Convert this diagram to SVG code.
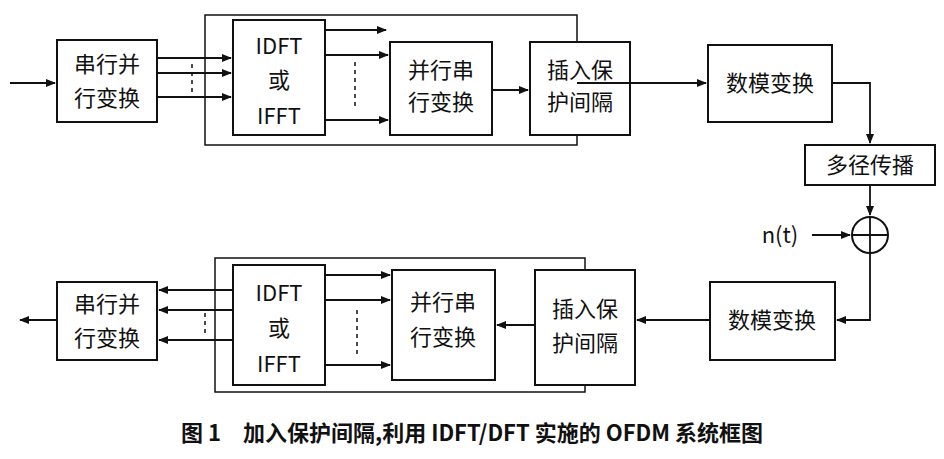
<svg xmlns="http://www.w3.org/2000/svg" width="944" height="459" viewBox="0 0 944 459">
<style>
.b{fill:#fff;stroke:#111;stroke-width:2}
.o{fill:none;stroke:#111;stroke-width:1.5}
.l{fill:none;stroke:#111;stroke-width:1.8}
.d{stroke:#111;stroke-width:1.5;stroke-dasharray:4,4}
text{font-family:"Noto Sans CJK SC","Liberation Serif",serif;font-size:22px;fill:#111;text-anchor:middle}
</style>
<defs><marker id="a" markerWidth="10" markerHeight="8" refX="9" refY="4" orient="auto" markerUnits="userSpaceOnUse"><path d="M0,0L10,4L0,8z" fill="#111"/></marker></defs>
<rect width="944" height="459" fill="#fff"/>
<g id="outerTop"><rect class="o" x="205" y="15" width="372" height="130"/></g>
<g id="outerBot"><rect class="o" x="215" y="258" width="370" height="134"/></g>
<g id="sp1"><rect class="b" x="57" y="40" width="100" height="82"/><text x="107" y="72">串行并</text><text x="107" y="106">行变换</text></g>
<g id="idft1"><rect class="b" x="233" y="20" width="92" height="115"/><text x="279" y="54" font-family="Liberation Serif">IDFT</text><text x="279" y="88">或</text><text x="279" y="124" font-family="Liberation Serif">IFFT</text></g>
<g id="ps1"><rect class="b" x="390" y="42" width="102" height="93"/><text x="441" y="78">并行串</text><text x="441" y="110">行变换</text></g>
<g id="gi1"><rect class="b" x="530" y="42" width="100" height="93"/><text x="580" y="78">插入保</text><text x="580" y="110">护间隔</text></g>
<g id="da1"><rect class="b" x="708" y="45" width="124" height="77"/><text x="770" y="91">数模变换</text></g>
<g id="mp"><rect class="b" x="805" y="145" width="130" height="40"/><text x="870" y="173">多径传播</text></g>
<g id="sum"><circle class="b" cx="870" cy="235" r="18"/><path class="l" d="M852,235H888M870,217V253"/><text x="780" y="243" font-family="Liberation Serif" font-size="21">n(t)</text></g>
<g id="sp2"><rect class="b" x="57" y="282" width="100" height="78"/><text x="107" y="312">串行并</text><text x="107" y="346">行变换</text></g>
<g id="idft2"><rect class="b" x="233" y="265" width="92" height="120"/><text x="279" y="301" font-family="Liberation Serif">IDFT</text><text x="279" y="336">或</text><text x="279" y="372" font-family="Liberation Serif">IFFT</text></g>
<g id="ps2"><rect class="b" x="392" y="270" width="103" height="110"/><text x="443" y="310">并行串</text><text x="443" y="345">行变换</text></g>
<g id="gi2"><rect class="b" x="535" y="270" width="100" height="115"/><text x="585" y="317">插入保</text><text x="585" y="351">护间隔</text></g>
<g id="da2"><rect class="b" x="710" y="282" width="125" height="78"/><text x="772" y="328">数模变换</text></g>
<g id="connectors">
<path class="l" marker-end="url(#a)" d="M10,83H55"/>
<path class="l" marker-end="url(#a)" d="M157,58H231"/>
<path class="l" marker-end="url(#a)" d="M157,73H231"/>
<path class="l" marker-end="url(#a)" d="M157,97H231"/>
<line class="d" x1="192" y1="64" x2="192" y2="94"/>
<path class="l" marker-end="url(#a)" d="M325,30H386"/>
<path class="l" marker-end="url(#a)" d="M325,55H388"/>
<path class="l" marker-end="url(#a)" d="M325,120H388"/>
<line class="d" x1="355" y1="62" x2="355" y2="110"/>
<path class="l" marker-end="url(#a)" d="M492,90H528"/>
<path class="l" marker-end="url(#a)" d="M577,83H706"/>
<path class="l" marker-end="url(#a)" d="M832,83H870V143"/>
<path class="l" marker-end="url(#a)" d="M870,185V215"/>
<path class="l" marker-end="url(#a)" d="M812,235H850"/>
<path class="l" marker-end="url(#a)" d="M870,253V320H837"/>
<path class="l" marker-end="url(#a)" d="M710,320H637"/>
<path class="l" marker-end="url(#a)" d="M535,325H497"/>
<path class="l" marker-end="url(#a)" d="M325,275H390"/>
<path class="l" marker-end="url(#a)" d="M325,300H390"/>
<path class="l" marker-end="url(#a)" d="M325,365H390"/>
<line class="d" x1="357" y1="310" x2="357" y2="355"/>
<path class="l" marker-end="url(#a)" d="M233,290H159"/>
<path class="l" marker-end="url(#a)" d="M233,310H159"/>
<path class="l" marker-end="url(#a)" d="M233,340H159"/>
<line class="d" x1="205" y1="313" x2="205" y2="337"/>
<path class="l" marker-end="url(#a)" d="M57,320H20"/>
</g>
<text x="472" y="441" font-size="24" font-weight="bold">图 1　加入保护间隔,利用 IDFT/DFT 实施的 OFDM 系统框图</text>
</svg>
